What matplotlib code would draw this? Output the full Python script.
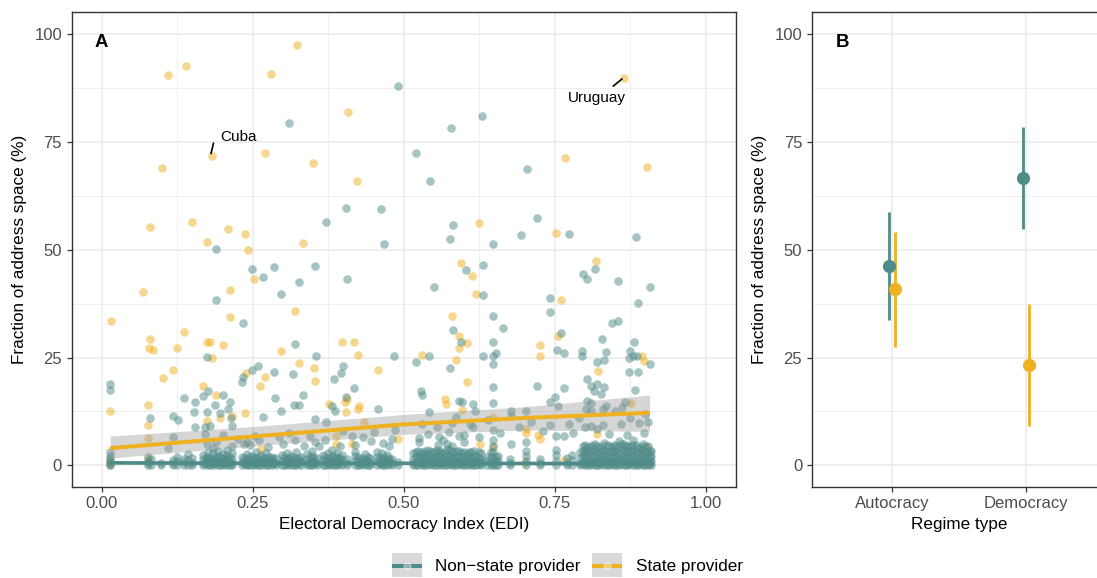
import numpy as np
import matplotlib
matplotlib.use("Agg")
import matplotlib.pyplot as plt
from matplotlib.lines import Line2D
from matplotlib.patches import Rectangle

plt.rcParams['font.family'] = ['Liberation Sans', 'DejaVu Sans']

TEAL = '#4F8B88'
GOLD = '#F0B120'
GRID = '#EBEBEB'
DARK = '#333333'

# ---- Panel A data: EDI vs fraction of address space (%) ----
nonstate_x = [0.490, 0.310, 0.630, 0.578, 0.520, 0.543, 0.704,
              0.404, 0.462, 0.372, 0.189, 0.467, 0.248, 0.286, 0.267, 0.353, 0.326, 0.406, 0.296, 0.189, 0.234,
              0.582, 0.577, 0.647, 0.720, 0.694, 0.774, 0.885, 0.603, 0.632, 0.550, 0.632, 0.817, 0.796, 0.803,
              0.855, 0.908, 0.742, 0.888, 0.742, 0.648, 0.582, 0.664, 0.844, 0.855, 0.760, 0.828,
              0.014, 0.014, 0.320, 0.355, 0.484, 0.520, 0.542, 0.576, 0.594, 0.399, 0.385, 0.396, 0.316, 0.285,
              0.259, 0.249, 0.234, 0.233, 0.175, 0.176, 0.136, 0.154, 0.167, 0.201, 0.212, 0.209, 0.187, 0.174,
              0.080, 0.118, 0.126, 0.154, 0.171, 0.179, 0.118, 0.110, 0.215, 0.267, 0.296, 0.287, 0.319, 0.326,
              0.334, 0.353, 0.372, 0.382, 0.386, 0.417, 0.405, 0.457, 0.528, 0.530, 0.592, 0.541, 0.559, 0.575,
              0.592, 0.526, 0.526, 0.153, 0.214, 0.195, 0.236, 0.241, 0.254, 0.293, 0.320, 0.353, 0.414, 0.433,
              0.466, 0.480,
              0.648, 0.652, 0.648, 0.648, 0.631, 0.753, 0.765, 0.795, 0.795, 0.834, 0.820, 0.832, 0.881, 0.875,
              0.879, 0.873, 0.886, 0.908, 0.873, 0.887, 0.648, 0.720, 0.765, 0.803, 0.810, 0.815, 0.820, 0.826,
              0.832, 0.882, 0.596, 0.615, 0.647, 0.677, 0.702, 0.742, 0.756, 0.751, 0.774, 0.804, 0.810, 0.802,
              0.810, 0.830, 0.835, 0.850, 0.862, 0.866, 0.586, 0.618, 0.677, 0.742, 0.752, 0.765, 0.800, 0.810,
              0.820, 0.830, 0.875, 0.905, 0.898, 0.571, 0.599, 0.615, 0.648, 0.677, 0.702,
              0.171, 0.175, 0.190, 0.200, 0.215, 0.225, 0.245, 0.260, 0.275, 0.300, 0.310, 0.335, 0.345, 0.360,
              0.370, 0.395, 0.400, 0.420, 0.445, 0.450, 0.475, 0.485,
              0.530, 0.540, 0.555, 0.565, 0.580, 0.600, 0.610, 0.625, 0.640, 0.660, 0.690, 0.710, 0.730, 0.780,
              0.790, 0.840, 0.860, 0.870, 0.890, 0.900]
nonstate_y = [87.8, 79.4, 80.9, 78.1, 72.4, 65.8, 68.7,
              59.7, 59.4, 56.5, 50.1, 51.3, 45.4, 46.0, 43.7, 46.2, 42.6, 43.2, 39.8, 38.4, 33.0,
              55.8, 52.4, 51.2, 57.4, 53.4, 53.7, 53.0, 45.3, 46.5, 41.3, 39.4, 45.4, 44.4, 43.3,
              42.7, 41.3, 38.9, 37.6, 35.6, 34.7, 31.3, 31.9, 33.1, 33.4, 30.7, 29.4,
              18.9, 17.5, 28.1, 25.3, 25.3, 23.9, 25.4, 22.5, 28.5, 23.0, 20.1, 21.3, 21.1, 21.6,
              23.1, 22.2, 20.4, 19.3, 25.2, 17.2, 15.6, 14.8, 16.0, 16.4, 14.6, 13.1, 14.0, 12.3,
              10.9, 11.5, 10.6, 8.8, 8.8, 9.1, 6.6, 4.0, 9.2, 11.3, 12.5, 15.6, 14.0, 14.0,
              16.2, 10.8, 10.0, 13.7, 12.7, 17.9, 15.8, 13.0, 17.2, 16.4, 15.0, 12.3, 6.6, 7.7,
              6.9, 5.4, 6.4, 12.3, 10.9, 12.2, 5.0, 5.5, 6.9, 6.6, 5.9, 5.4, 6.9, 6.6,
              5.2, 6.2,
              28.5, 26.0, 25.4, 23.5, 25.4, 26.7, 26.0, 26.6, 25.4, 26.2, 24.0, 24.5, 28.5, 26.6,
              25.4, 24.8, 25.4, 23.5, 21.6, 21.7, 18.1, 18.3, 17.9, 20.0, 18.5, 17.2, 18.8, 16.6,
              18.2, 17.5, 14.8, 14.3, 14.5, 12.5, 12.7, 14.8, 13.7, 15.9, 9.6, 15.0, 14.4, 13.0,
              12.5, 13.0, 13.7, 12.7, 13.5, 14.8, 11.2, 12.7, 11.4, 9.4, 6.7, 6.7, 9.0, 9.1,
              8.5, 9.3, 11.0, 10.0, 7.5, 5.0, 5.4, 8.9, 8.1, 5.0, 5.4,
              7.3, 5.0, 5.5, 7.0, 4.6, 6.2, 4.8, 5.8, 4.2, 5.0, 7.5, 4.5, 6.8, 4.4,
              6.0, 4.6, 8.0, 4.8, 5.6, 7.8, 4.4, 8.2,
              9.5, 7.2, 8.8, 6.0, 9.8, 7.0, 9.5, 6.5, 10.5, 7.5, 9.0, 10.0, 8.0, 7.5,
              11.0, 7.2, 9.5, 7.0, 9.8, 12.0]

# dense strip of non-state observations sitting near zero (column x, values)
band_col_x = [0.013, 0.076, 0.081, 0.098, 0.118, 0.124, 0.136, 0.143, 0.150,
              0.168, 0.176, 0.184, 0.192, 0.200, 0.208, 0.216, 0.232, 0.240, 0.248, 0.256,
              0.264, 0.272, 0.280, 0.288, 0.298, 0.306, 0.314, 0.322, 0.330, 0.340, 0.348,
              0.356, 0.366, 0.374, 0.382, 0.390, 0.398, 0.406, 0.420, 0.428, 0.436, 0.444,
              0.456, 0.464, 0.472, 0.480, 0.490,
              0.516, 0.524, 0.532, 0.540, 0.548, 0.556, 0.564, 0.572, 0.580, 0.588, 0.596,
              0.604, 0.612, 0.620, 0.628, 0.638, 0.648, 0.656, 0.676, 0.703, 0.725, 0.752,
              0.770, 0.778, 0.792, 0.800, 0.808, 0.816, 0.824, 0.832, 0.840, 0.848, 0.856,
              0.864, 0.872, 0.880, 0.888, 0.896, 0.904, 0.910,
              0.172, 0.180, 0.188, 0.196, 0.204, 0.212, 0.236, 0.244, 0.252, 0.260, 0.268,
              0.276, 0.284, 0.302, 0.310, 0.318, 0.326, 0.344, 0.352, 0.370, 0.378, 0.386,
              0.394, 0.424, 0.432, 0.440, 0.460, 0.468, 0.476,
              0.520, 0.528, 0.536, 0.544, 0.552, 0.560, 0.568, 0.576, 0.584, 0.592, 0.600,
              0.608, 0.616, 0.624, 0.644, 0.652,
              0.796, 0.804, 0.812, 0.820, 0.828, 0.836, 0.844, 0.852, 0.860, 0.868, 0.876,
              0.884, 0.892, 0.900, 0.907]
band_col_y = [[0, 0.4, 0.9, 1.5, 2.2, 3.0], [0, 0.5, 1.1, 2.0], [0.2, 1.4], [0, 0.6], [0, 0.5, 1.2],
              [0.2, 1.0, 2.0], [0, 0.7, 1.6], [0.1, 1.2, 2.6], [0, 0.5, 1.8],
              [0, 0.6, 1.4, 2.4], [0, 1.0, 2.0, 3.2], [0, 0.5, 1.5, 2.8, 4.0], [0, 1.0, 2.2, 3.4],
              [0, 0.6, 1.6, 2.6], [0, 1.2, 2.4, 3.6], [0, 0.5, 1.4, 2.8], [0, 0.8, 2.0],
              [0, 0.4, 1.4, 2.6], [0, 1.0, 2.2], [0, 0.6, 1.8, 3.0],
              [0, 1.2, 2.4], [0, 0.5, 1.6, 2.8], [0, 1.0, 2.0], [0, 0.6, 1.8], [0, 1.0, 2.4],
              [0, 0.5, 1.5, 2.8], [0, 1.1, 2.2], [0, 0.6, 1.6, 3.0], [0, 1.0, 2.0],
              [0, 0.5, 1.4, 2.6], [0, 1.0, 2.2, 3.4],
              [0, 0.6, 1.8], [0, 1.2, 2.4], [0, 0.5, 1.6, 2.8], [0, 1.0, 2.2, 3.6],
              [0, 0.6, 1.8, 2.8], [0, 1.2, 2.4], [0, 0.5, 1.4], [0, 1.0, 2.2, 3.2], [0, 0.6, 1.6],
              [0, 1.2, 2.6], [0, 0.5, 1.8],
              [0, 1.0, 2.0, 3.0], [0, 0.6, 1.6, 2.8], [0, 1.2, 2.4], [0, 0.5, 1.4], [0, 0.8],
              [0, 0.6, 1.6, 2.8], [0, 1.0, 2.2, 3.4], [0, 0.5, 1.5, 2.6], [0, 1.2, 2.4, 3.6],
              [0, 0.6, 1.8, 3.0], [0, 1.0, 2.2, 3.6, 4.8], [0, 0.5, 1.6, 2.8], [0, 1.2, 2.4, 3.8],
              [0, 0.6, 1.8, 3.0, 4.4], [0, 1.0, 2.2, 3.4], [0, 0.5, 1.6, 2.8],
              [0, 1.2, 2.6], [0, 0.6, 1.8, 3.2], [0, 1.0, 2.2], [0, 0.5, 1.6, 2.8], [0, 1.0, 2.0],
              [0, 0.6, 1.8, 3.2, 4.6, 6.0], [0, 1.0, 2.2], [0, 0.6, 1.6], [0, 1.0, 2.2, 3.4],
              [0, 0.6, 1.6], [0, 1.0, 2.4, 3.6],
              [0, 0.6, 1.8], [0, 1.2, 2.4], [0, 0.6, 1.8, 3.0], [0, 1.2, 2.4, 3.6, 4.8],
              [0, 0.6, 1.8, 3.0, 4.2], [0, 1.0, 2.2, 3.4, 5.0], [0, 0.5, 1.6, 2.8, 4.0],
              [0, 1.2, 2.4, 3.6, 5.2], [0, 0.6, 1.8, 3.0, 4.4], [0, 1.0, 2.2, 3.4, 4.8],
              [0, 0.5, 1.6, 2.8, 4.2, 5.6],
              [0, 1.2, 2.4, 3.6, 5.0], [0, 0.6, 1.8, 3.0, 4.4], [0, 1.0, 2.2, 3.4, 4.8, 6.0],
              [0, 0.5, 1.6, 2.8, 4.0], [0, 1.2, 2.4, 3.6, 5.0], [0, 0.6, 1.8, 3.0, 4.4],
              [0, 1.0, 2.2, 3.4],
              [0.3, 0.9, 1.8], [0.2, 0.8, 1.7], [0.3, 1.0, 2.0], [0.1, 0.8, 1.9], [0.3, 1.0, 1.8],
              [0.2, 0.9, 2.0], [0.3, 0.8, 1.7], [0.2, 1.0, 1.9], [0.3, 0.8, 1.8], [0.1, 0.9, 2.0],
              [0.3, 1.0, 1.7], [0.2, 0.8, 1.9], [0.3, 0.9, 1.8], [0.2, 1.0, 2.0], [0.3, 0.8, 1.7],
              [0.1, 0.9, 1.9], [0.3, 1.0, 1.8], [0.2, 0.8, 2.0], [0.3, 0.9, 1.7], [0.2, 1.0, 1.9],
              [0.3, 0.8, 1.8], [0.1, 0.9, 2.0], [0.3, 1.0, 1.7], [0.2, 0.8, 1.9], [0.3, 0.9, 1.8],
              [0.2, 1.0, 2.0], [0.3, 0.8, 1.7], [0.1, 0.9, 1.9], [0.3, 1.0, 1.8],
              [0.2, 0.8, 2.0, 3.2], [0.3, 1.0, 1.9, 3.0], [0.1, 0.9, 2.1, 3.3], [0.3, 0.8, 1.8, 3.1],
              [0.2, 1.0, 2.0, 3.4], [0.3, 0.9, 2.2, 3.0], [0.1, 0.8, 1.9, 3.2], [0.3, 1.0, 2.1, 3.5],
              [0.2, 0.9, 1.8, 3.1], [0.3, 0.8, 2.0, 3.3], [0.1, 1.0, 2.2, 3.0], [0.3, 0.9, 1.9, 3.2],
              [0.2, 0.8, 2.1, 3.4], [0.3, 1.0, 1.8, 3.0], [0.1, 0.9, 2.0, 3.2], [0.2, 1.0, 2.0],
              [0.3, 0.9, 2.2, 3.4, 4.6], [0.1, 0.8, 1.9, 3.1, 4.2], [0.3, 1.0, 2.1, 3.5, 4.8],
              [0.2, 0.9, 1.8, 3.0, 4.4], [0.3, 0.8, 2.0, 3.3, 4.5], [0.1, 1.0, 2.2, 3.2, 4.7],
              [0.3, 0.9, 1.9, 3.4, 4.3], [0.2, 0.8, 2.1, 3.1, 4.6], [0.3, 1.0, 1.8, 3.5, 4.9],
              [0.1, 0.9, 2.0, 3.0, 4.4], [0.3, 0.8, 2.2, 3.3, 4.5], [0.2, 1.0, 1.9, 3.2, 4.8],
              [0.3, 0.9, 2.1, 3.4, 4.2], [0.1, 0.8, 1.8, 3.0, 4.6], [0.3, 1.0, 2.0, 3.3]]

state_x = [0.110, 0.140, 0.324, 0.280, 0.408, 0.182, 0.100, 0.270, 0.349, 0.423, 0.864, 0.767, 0.902,
           0.080, 0.150, 0.209, 0.237, 0.175, 0.242, 0.333, 0.252, 0.068, 0.212, 0.015, 0.212, 0.320,
           0.137, 0.625, 0.752, 0.595, 0.613, 0.619, 0.818, 0.760, 0.580, 0.592, 0.755,
           0.080, 0.078, 0.085, 0.125, 0.174, 0.179, 0.201, 0.182, 0.118, 0.101, 0.168, 0.189, 0.076,
           0.076, 0.077, 0.014, 0.196, 0.215, 0.175, 0.237, 0.262, 0.271, 0.239, 0.296, 0.327, 0.351,
           0.353, 0.398, 0.417, 0.424, 0.457, 0.531, 0.569, 0.570, 0.591, 0.587, 0.604, 0.406, 0.403,
           0.405, 0.426, 0.425, 0.377, 0.388, 0.388, 0.414, 0.490, 0.264, 0.435, 0.548,
           0.605, 0.596, 0.726, 0.726, 0.822, 0.895, 0.898, 0.877, 0.648, 0.702, 0.702, 0.726, 0.722,
           0.820, 0.626, 0.648, 0.902,
           0.014, 0.014, 0.076, 0.174, 0.190, 0.260, 0.280, 0.388, 0.765, 0.820, 0.460, 0.700]
state_y = [90.4, 92.5, 97.5, 90.6, 81.8, 71.8, 69.0, 72.4, 70.1, 66.0, 89.8, 71.2, 69.1,
           55.3, 56.5, 54.7, 53.7, 51.8, 49.8, 51.6, 43.3, 40.1, 40.7, 33.5, 34.4, 35.7,
           30.9, 56.2, 53.9, 46.9, 43.8, 39.6, 47.4, 38.3, 34.6, 29.9, 30.0,
           29.3, 27.3, 26.7, 27.2, 28.5, 28.5, 28.0, 24.8, 22.0, 20.3, 18.5, 16.2, 14.0,
           9.3, 6.4, 12.6, 11.0, 11.4, 10.2, 12.2, 18.3, 20.4, 21.5, 26.6, 23.7, 22.6,
           19.6, 28.5, 28.7, 25.6, 22.0, 25.6, 15.4, 14.3, 27.3, 24.4, 19.3, 15.4, 14.6,
           12.3, 13.7, 13.1, 14.2, 6.9, 5.0, 5.0, 6.2, 3.9, 10.0, 1.9,
           28.3, 12.9, 27.9, 25.4, 21.9, 25.3, 24.2, 14.5, 11.2, 8.5, 7.5, 6.2, 7.1,
           7.3, 5.0, 4.2, 4.2,
           1.0, 0.0, 1.4, 1.5, 1.0, 1.0, 0.8, 1.2, 1.3, 1.0, 0.5, 0.6]

# fitted trends with confidence ribbons
fit_x = [0.014, 0.25, 0.50, 0.70, 0.907]
state_fit = [4.0, 6.7, 9.5, 11.0, 12.2]
state_lo = [1.7, 4.5, 7.2, 8.2, 7.9]
state_hi = [6.8, 9.0, 11.8, 13.6, 16.3]
nonstate_fit = [0.6, 0.5, 0.5, 0.45, 0.4]
nonstate_lo = [0.3, 0.3, 0.3, 0.25, 0.1]
nonstate_hi = [0.9, 0.7, 0.7, 0.65, 0.7]

# ---- Panel B data: regime type means with intervals ----
regimes = ['Autocracy', 'Democracy']
nonstate_mean = [46.3, 66.6]
nonstate_ci_lo = [33.8, 54.7]
nonstate_ci_hi = [58.7, 78.5]
state_mean = [40.8, 23.3]
state_ci_lo = [27.4, 9.1]
state_ci_hi = [54.1, 37.3]

W, H = 1097, 578
fig = plt.figure(figsize=(W / 100, H / 100), dpi=100)


def px_rect(x0, y0, x1, y1):
    return [x0 / W, 1 - y1 / H, (x1 - x0) / W, (y1 - y0) / H]


def style_axes(ax):
    for s in ax.spines.values():
        s.set_color(DARK)
        s.set_linewidth(1.0)
    ax.tick_params(which='major', length=3.8, width=0.9, color=DARK,
                   labelsize=12, labelcolor='#4D4D4D', pad=3)
    ax.tick_params(which='minor', length=0)
    ax.grid(which='major', color=GRID, linewidth=1.1)
    ax.grid(which='minor', color=GRID, linewidth=0.55)
    ax.set_axisbelow(True)


# ---------------- Panel A ----------------
axA = fig.add_axes(px_rect(71.5, 12.2, 736, 487))
style_axes(axA)

bx = [x for x, ys in zip(band_col_x, band_col_y) for _ in ys]
by = [y for ys in band_col_y for y in ys]

pt = dict(s=38, alpha=0.5, linewidths=0, zorder=2)
axA.scatter(state_x, state_y, color=GOLD, **pt)
axA.scatter(nonstate_x, nonstate_y, color=TEAL, **pt)
axA.scatter(bx, by, color=TEAL, **pt)

axA.fill_between(fit_x, nonstate_lo, nonstate_hi, color='#999999', alpha=0.4, linewidth=0, zorder=3)
axA.fill_between(fit_x, state_lo, state_hi, color='#999999', alpha=0.4, linewidth=0, zorder=3)
axA.plot(fit_x, nonstate_fit, color=TEAL, linewidth=2.6, solid_capstyle='butt', zorder=4)
axA.plot(fit_x, state_fit, color=GOLD, linewidth=2.9, solid_capstyle='butt', zorder=4)

axA.set_xlim(-0.05, 1.05)
axA.set_ylim(-5, 105)
axA.set_xticks([0, 0.25, 0.5, 0.75, 1.0])
axA.set_xticklabels(['0.00', '0.25', '0.50', '0.75', '1.00'])
axA.set_xticks([0.125, 0.375, 0.625, 0.875], minor=True)
axA.set_yticks([0, 25, 50, 75, 100])
axA.set_yticks([12.5, 37.5, 62.5, 87.5], minor=True)
axA.set_xlabel('Electoral Democracy Index (EDI)', fontsize=12.3, labelpad=4)
axA.set_ylabel('Fraction of address space (%)', fontsize=12.3, labelpad=5)

axA.text(0.0, 98, 'A', fontsize=13.4, fontweight='bold', ha='center', va='center')
axA.plot([0.181, 0.185], [72.3, 74.6], color='black', linewidth=1.2, zorder=5)
axA.text(0.196, 74.4, 'Cuba', fontsize=11, ha='left', va='bottom')
axA.plot([0.847, 0.861], [87.9, 89.5], color='black', linewidth=1.2, zorder=5)
axA.text(0.819, 85.1, 'Uruguay', fontsize=11, ha='center', va='center')

# ---------------- Panel B ----------------
axB = fig.add_axes(px_rect(811.6, 12.2, 1106.4, 487))
style_axes(axB)
axB.spines['right'].set_visible(False)
pos = np.arange(1, len(regimes) + 1)
dodge = 0.026
axB.vlines(pos - dodge, nonstate_ci_lo, nonstate_ci_hi, color=TEAL, linewidth=2.0, zorder=3)
axB.vlines(pos + dodge, state_ci_lo, state_ci_hi, color=GOLD, linewidth=2.0, zorder=3)
axB.plot(pos - dodge, nonstate_mean, 'o', color=TEAL, markersize=8.5, zorder=4)
axB.plot(pos + dodge, state_mean, 'o', color=GOLD, markersize=8.5, zorder=4)
axB.set_xlim(0.4, 2.6)
axB.set_ylim(-5, 105)
axB.set_xticks(pos)
axB.set_xticklabels(regimes)
axB.set_yticks([0, 25, 50, 75, 100])
axB.set_yticks([12.5, 37.5, 62.5, 87.5], minor=True)
axB.grid(which='minor', axis='x', visible=False)
axB.set_xlabel('Regime type', fontsize=12.3, labelpad=4)
axB.set_ylabel('Fraction of address space (%)', fontsize=12.3, labelpad=5)
axB.text(0.634, 98, 'B', fontsize=13.4, fontweight='bold', ha='center', va='center')

# ---------------- legend (drawn by hand, ggplot style keys) ----------------
legend_items = [('Non\u2212state provider', TEAL, 391.7, 435), ('State provider', GOLD, 591.7, 636)]
for label, col, kx, tx in legend_items:
    fig.patches.append(Rectangle((kx / W, 1 - 576.7 / H), 30 / W, 24 / H,
                                 transform=fig.transFigure, facecolor='#D9D9D9',
                                 edgecolor='none'))
    fig.lines.append(Line2D([(kx + 2) / W, (kx + 28) / W], [1 - 566 / H] * 2,
                            transform=fig.transFigure, color=col, linewidth=2.9))
    fig.lines.append(Line2D([(kx + 15) / W], [1 - 566 / H], transform=fig.transFigure,
                            marker='o', markersize=5, color='white', alpha=0.35,
                            linestyle='none'))
    fig.text(tx / W, 1 - 566 / H, label, fontsize=12.3, ha='left', va='center')

fig.savefig('out.png', dpi=100)
